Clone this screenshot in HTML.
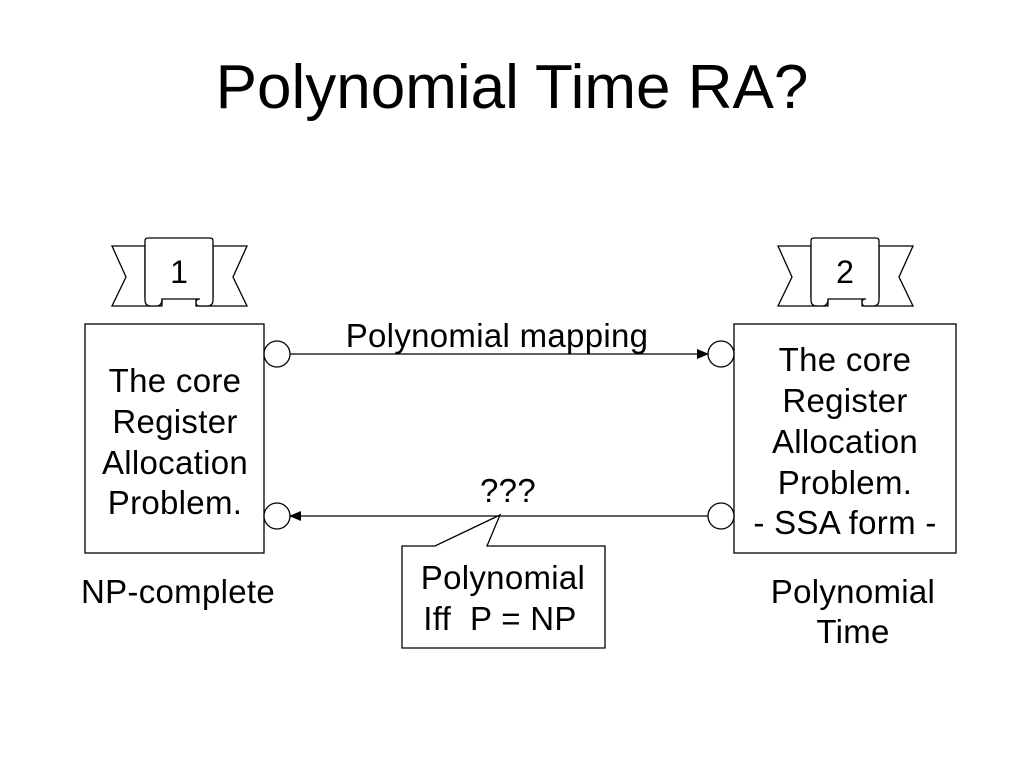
<!DOCTYPE html>
<html><head><style>
body{margin:0;background:#fff;}
svg text{font-family:"Liberation Sans",Arial,sans-serif;fill:#000;}
</style></head><body>
<svg width="1024" height="768" viewBox="0 0 1024 768" xmlns="http://www.w3.org/2000/svg">
<defs><marker id="ah" markerWidth="12" markerHeight="10" refX="11" refY="5" orient="auto" markerUnits="userSpaceOnUse"><path d="M0,0 L12,5 L0,10 z" fill="#000"/></marker></defs>
<text x="512" y="108" font-size="62" text-anchor="middle">Polynomial Time RA?</text>
<g fill="#fff" stroke="#000" stroke-width="1.3">
<path d="M145,246 L112,246 L126,277 L112,306 L162,306 L162,297 L145,297 z"/>
<path d="M213,246 L247,246 L233,277 L247,306 L196,306 L196,297 L213,297 z"/>
<path d="M148,238 L210,238 Q213,238 213,241 L213,300 Q213,306 207,306 L199,306 Q196,306 196,302 Q196,299 200,299 L162,299 Q162,306 156,306 L151,306 Q145,306 145,300 L145,241 Q145,238 148,238 z"/>
</g>
<text x="179" y="283" font-size="32" text-anchor="middle">1</text>
<g transform="translate(666,0)" fill="#fff" stroke="#000" stroke-width="1.3">
<path d="M145,246 L112,246 L126,277 L112,306 L162,306 L162,297 L145,297 z"/>
<path d="M213,246 L247,246 L233,277 L247,306 L196,306 L196,297 L213,297 z"/>
<path d="M148,238 L210,238 Q213,238 213,241 L213,300 Q213,306 207,306 L199,306 Q196,306 196,302 Q196,299 200,299 L162,299 Q162,306 156,306 L151,306 Q145,306 145,300 L145,241 Q145,238 148,238 z"/>
</g>
<text x="845" y="283" font-size="32" text-anchor="middle">2</text>
<rect x="85" y="324" width="179" height="229" fill="none" stroke="#000" stroke-width="1.3"/>
<rect x="734" y="324" width="222" height="229" fill="none" stroke="#000" stroke-width="1.3"/>
<g font-size="33" text-anchor="middle" letter-spacing="0.3">
<text x="175" y="392">The core</text><text x="175" y="433">Register</text><text x="175" y="474">Allocation</text><text x="175" y="514">Problem.</text>
<text x="845" y="371">The core</text><text x="845" y="412">Register</text><text x="845" y="453">Allocation</text><text x="845" y="494">Problem.</text><text x="845" y="534">- SSA form -</text>
<text x="497" y="347">Polynomial mapping</text>
<text x="508" y="502">???</text>
<text x="178" y="603">NP-complete</text>
<text x="853" y="603">Polynomial</text><text x="853" y="643">Time</text>
</g>
<g fill="#fff" stroke="#000" stroke-width="1.3">
<circle cx="277" cy="354" r="13"/><circle cx="277" cy="516" r="13"/>
<circle cx="721" cy="354" r="13"/><circle cx="721" cy="516" r="13"/>
</g>
<line x1="290" y1="354" x2="708" y2="354" stroke="#000" stroke-width="1.3" marker-end="url(#ah)"/>
<line x1="708" y1="516" x2="290" y2="516" stroke="#000" stroke-width="1.3" marker-end="url(#ah)"/>
<path d="M402,546 L435,546 L500,515 L487,546 L605,546 L605,648 L402,648 z" fill="#fff" stroke="#000" stroke-width="1.3"/>
<g font-size="33" text-anchor="middle" letter-spacing="0.3">
<text x="503" y="589">Polynomial</text><text x="500" y="630" xml:space="preserve">Iff  P = NP</text>
</g>
</svg>
</body></html>
